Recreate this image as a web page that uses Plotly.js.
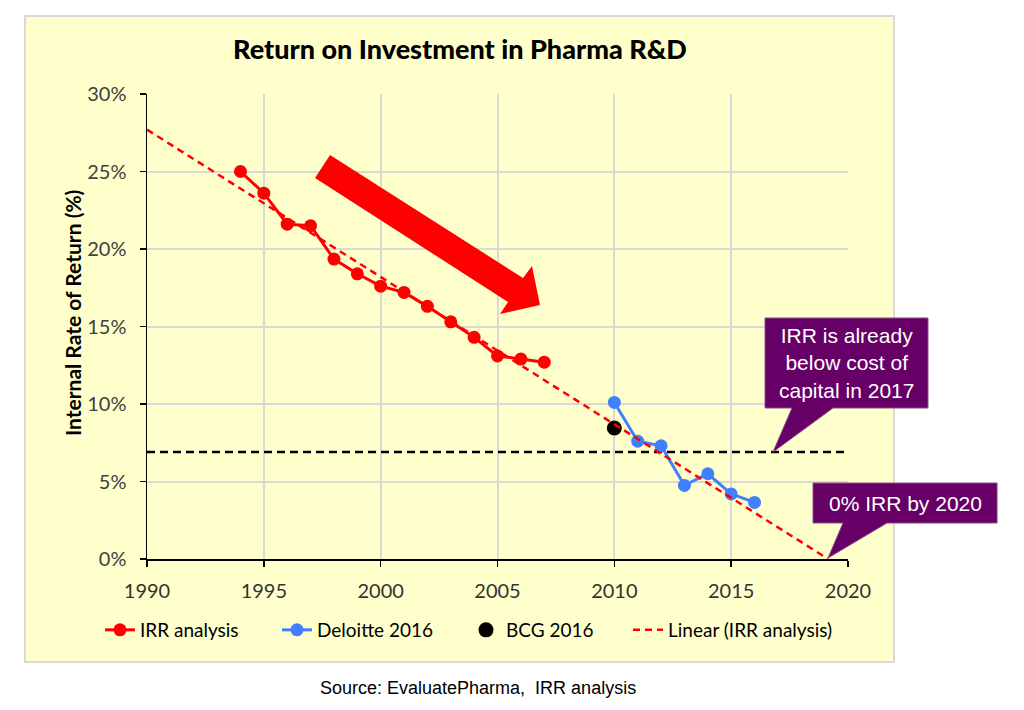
<!DOCTYPE html>
<html lang="en">
<head>
    <meta charset="UTF-8">
    <script src="https://cdn.plot.ly/plotly-3.0.1.min.js"></script>
    <title>Return on Investment in Pharma R&amp;D</title>
    <style>
        body { margin: 0; background: #fff; }
    </style>
</head>
<body>
    <div id="chart" style="width:1024px;height:710px;"></div>

    <script>
        // IRR analysis (EvaluatePharma)
        var irrYears = [1994, 1995, 1996, 1997, 1998, 1999, 2000, 2001, 2002, 2003, 2004, 2005, 2006, 2007]
        var irrValues = [25.0, 23.6, 21.6, 21.5, 19.35, 18.4, 17.6, 17.2, 16.3, 15.3, 14.3, 13.1, 12.9, 12.7]

        // Deloitte 2016
        var deloitteYears = [2010, 2011, 2012, 2013, 2014, 2015, 2016]
        var deloitteValues = [10.1, 7.6, 7.3, 4.75, 5.5, 4.2, 3.65]

        // BCG 2016
        var bcgYears = [2010]
        var bcgValues = [8.45]

        // Linear (IRR analysis), end points
        var trendYears = [1990, 2019.15]
        var trendValues = [27.7, 0]

        // cost of capital
        var costYears = [1990, 2020]
        var costValues = [6.9, 6.9]

        var xTicks = [1990, 1995, 2000, 2005, 2010, 2015, 2020]
        var yTicks = [0, 5, 10, 15, 20, 25, 30]

        // plot area in pixels
        var L = 147, R = 848, T = 94, B = 559
        function px(x, y) {
            return ((x - L) / (R - L)).toFixed(4) + ',' + ((B - y) / (B - T)).toFixed(4)
        }
        function pathOf(pts) {
            return 'M' + pts.map(function(p) { return px(p[0], p[1]) }).join(' L') + ' Z'
        }
        function callout(x0, y0, x1, y1, pl, pr, tip) {
            return pathOf([[x0, y0], [x1, y0], [x1, y1], [pr, y1], tip, [pl, y1], [x0, y1]])
        }

        var yellow = '#FFFFCC'
        var purple = '#660066'
        var calibri = 'Lato, "Open Sans", sans-serif'
        var arial = '"Liberation Sans", Arial, sans-serif'

        var traces = [{
            x: costYears,
            y: costValues,
            mode: 'lines',
            line: { color: '#000', width: 2.5, dash: '8px,5px' },
            showlegend: false,
            hoverinfo: 'skip'
        }, {
            name: 'IRR analysis',
            x: irrYears,
            y: irrValues,
            mode: 'lines+markers',
            line: { color: '#FF0000', width: 3 },
            marker: { color: '#FF0000', size: 13 },
            legend: 'legend'
        }, {
            name: 'Deloitte 2016',
            x: deloitteYears,
            y: deloitteValues,
            mode: 'lines+markers',
            line: { color: '#4080FF', width: 3 },
            marker: { color: '#4080FF', size: 13 },
            legend: 'legend2'
        }, {
            name: 'BCG 2016',
            x: bcgYears,
            y: bcgValues,
            mode: 'markers',
            marker: { color: '#000', size: 15 },
            legend: 'legend3'
        }, {
            name: 'Linear (IRR analysis)',
            x: trendYears,
            y: trendValues,
            mode: 'lines',
            line: { color: '#FF0000', width: 2.5, dash: '7px,5px' },
            legend: 'legend4'
        }]

        var shapes = [{
            // outer chart box
            type: 'rect', xref: 'paper', yref: 'paper', layer: 'below',
            x0: (25 - L) / (R - L), x1: (894 - L) / (R - L),
            y0: (B - 662) / (B - T), y1: (B - 16) / (B - T),
            fillcolor: yellow,
            line: { color: '#D9D9D9', width: 2 }
        }, {
            // big red arrow
            type: 'path', xref: 'paper', yref: 'paper',
            path: pathOf([[330, 155], [523, 278], [532, 266], [540, 305], [500, 314], [508, 302], [315, 178]]),
            fillcolor: '#FF0000',
            line: { width: 0 }
        }, {
            type: 'path', xref: 'paper', yref: 'paper',
            path: callout(765, 318, 928, 408, 792, 833, [773, 452]),
            fillcolor: purple,
            line: { color: '#8A4A8A', width: 1 }
        }, {
            type: 'path', xref: 'paper', yref: 'paper',
            path: callout(813, 483, 997, 523, 843, 887, [828, 558]),
            fillcolor: purple,
            line: { color: '#8A4A8A', width: 1 }
        }]

        function note(text, x, y, font, extra) {
            var a = {
                text: text, xref: 'paper', yref: 'paper',
                x: (x - L) / (R - L), y: (B - y) / (B - T),
                xanchor: 'center', yanchor: 'middle',
                showarrow: false, font: font
            }
            for (var k in extra) a[k] = extra[k]
            return a
        }

        var annotations = [
            note('Internal Rate of Return (%)', 72, 313,
                { family: calibri, size: 21, color: '#000', weight: 700 }, { textangle: -90 }),
            note('IRR is already<br>below cost of<br>capital in 2017', 846, 363,
                { family: arial, size: 21, color: '#fff' }),
            note('0% IRR by 2020', 905, 503,
                { family: arial, size: 21, color: '#fff' }),
            note('Source: EvaluatePharma,  IRR analysis', 478, 688,
                { family: arial, size: 18, color: '#000' })
        ]

        // one legend per entry, so each can sit where the original has it
        function legendAt(left) {
            return {
                orientation: 'h',
                x: (left - L) / (R - L), xanchor: 'left',
                y: (B - 630) / (B - T), yanchor: 'middle',
                bgcolor: 'rgba(0,0,0,0)',
                font: { family: calibri, size: 19, color: '#000' }
            }
        }

        var layout = {
            width: 1024,
            height: 710,
            margin: { l: L, r: 1024 - R, t: T, b: 710 - B, autoexpand: false },
            paper_bgcolor: '#fff',
            plot_bgcolor: 'rgba(0,0,0,0)',
            title: {
                text: 'Return on Investment in Pharma R&D',
                xref: 'container', x: 460 / 1024, xanchor: 'center',
                yref: 'container', y: 1 - 50 / 710, yanchor: 'middle',
                font: { family: calibri, size: 27, color: '#000', weight: 900 }
            },
            xaxis: {
                range: [1990, 2020],
                tickvals: xTicks,
                ticktext: xTicks.map(String),
                showgrid: true, gridcolor: '#D9D9D9', gridwidth: 2,
                zeroline: false,
                showline: true, linecolor: '#000', linewidth: 1.5,
                ticks: 'outside', ticklen: 6, tickwidth: 1.5, tickcolor: '#000',
                ticklabelstandoff: 7,
                tickfont: { family: calibri, size: 20, color: '#333' }
            },
            yaxis: {
                range: [0, 30],
                tickvals: yTicks,
                ticktext: yTicks.map(function(v) { return v + '%' }),
                showgrid: true, gridcolor: '#D9D9D9', gridwidth: 2,
                zeroline: false,
                showline: true, linecolor: '#000', linewidth: 1.5,
                ticks: 'outside', ticklen: 6, tickwidth: 1.5, tickcolor: '#000',
                ticklabelstandoff: 9,
                tickfont: { family: calibri, size: 20, color: '#404040' }
            },
            legend: legendAt(100),
            legend2: legendAt(277),
            legend3: legendAt(466),
            legend4: legendAt(628),
            shapes: shapes,
            annotations: annotations,
            hovermode: false
        }

        Plotly.newPlot('chart', traces, layout, { displayModeBar: false, staticPlot: true })
    </script>
</body>
</html>
